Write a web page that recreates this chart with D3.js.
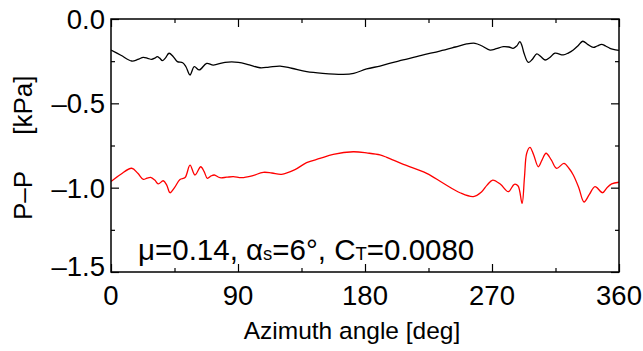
<!DOCTYPE html>
<html>
<head>
<meta charset="utf-8">
<script src="https://cdn.jsdelivr.net/npm/d3@7/dist/d3.min.js"></script>
<style>
  html, body { margin: 0; padding: 0; background: #fff; }
  svg { display: block; }
  text { font-family: "Liberation Sans", Arial, sans-serif; fill: #000; }
</style>
</head>
<body>
<svg id="chart" width="643" height="351"></svg>
<script>
// ---- Data ----
const blackAngle = [0, 7, 14.7, 19, 22.9, 26, 28.8, 31, 32.8, 34.5, 36.4, 38.5, 41.1, 44, 47, 50.8, 53.1, 56, 59, 62.6, 67.8, 72.5, 80.8, 90.2, 98, 105.6, 112, 119.8, 128, 138.7, 150, 164.6, 172, 181.2, 190.6, 198, 207, 220, 233, 244, 252, 258, 263, 268.6, 273, 278, 282, 285, 287.5, 289.8, 291.3, 292.7, 295.7, 298.5, 301.7, 304.5, 307.6, 311, 314.6, 320.5, 324, 327.6, 331, 334.3, 338, 341.8, 344.5, 347.7, 350.5, 353.6, 356, 360];
const blackValue = [-0.184, -0.215, -0.249, -0.240, -0.227, -0.233, -0.239, -0.232, -0.223, -0.232, -0.247, -0.232, -0.203, -0.222, -0.253, -0.259, -0.283, -0.332, -0.283, -0.302, -0.263, -0.273, -0.257, -0.257, -0.272, -0.289, -0.285, -0.279, -0.292, -0.312, -0.322, -0.328, -0.322, -0.296, -0.279, -0.262, -0.243, -0.215, -0.190, -0.166, -0.148, -0.144, -0.160, -0.184, -0.176, -0.164, -0.166, -0.174, -0.160, -0.134, -0.160, -0.203, -0.257, -0.240, -0.207, -0.222, -0.243, -0.228, -0.203, -0.213, -0.202, -0.184, -0.158, -0.132, -0.152, -0.168, -0.160, -0.150, -0.160, -0.174, -0.180, -0.186];

const redAngle = [0, 7, 14.7, 19, 22.9, 25.5, 28.1, 31, 33.5, 37, 39.5, 41.8, 45, 48.9, 52.5, 56, 59.5, 63.6, 66, 68.3, 71, 73.2, 77.2, 82, 86.7, 92.6, 100, 107.9, 114, 120.9, 130, 138.6, 148, 157.5, 171.7, 182, 190.6, 195.4, 207.2, 223.7, 235.5, 247.3, 256.8, 262.7, 266.5, 270.5, 276, 281.6, 285.8, 288.5, 291.3, 293, 294.6, 296.9, 299.5, 302.8, 305.5, 308.3, 312, 315.8, 321, 324.5, 327.6, 331.5, 335.2, 339, 343, 348.4, 351.5, 354.8, 360];
const redValue = [-0.964, -0.920, -0.885, -0.915, -0.951, -0.944, -0.939, -0.955, -0.978, -0.959, -0.985, -1.030, -1.000, -0.951, -0.940, -0.866, -0.925, -0.876, -0.905, -0.945, -0.930, -0.925, -0.941, -0.938, -0.935, -0.941, -0.930, -0.909, -0.913, -0.921, -0.895, -0.852, -0.827, -0.802, -0.787, -0.795, -0.806, -0.820, -0.862, -0.915, -0.974, -1.030, -1.053, -1.024, -0.985, -0.955, -0.980, -1.024, -0.980, -0.990, -1.093, -0.940, -0.796, -0.761, -0.805, -0.876, -0.835, -0.796, -0.835, -0.885, -0.856, -0.885, -0.925, -1.000, -1.085, -1.040, -0.994, -1.030, -1.000, -0.978, -0.968];

const xTicks = [0, 90, 180, 270, 360];
const xMinorTicks = [45, 135, 225, 315];
const yTicks = [0, -0.5, -1.0, -1.5];
const yMinorTicks = [-0.25, -0.75, -1.25];
const yTickLabels = ["0.0", "\u20130.5", "\u20131.0", "\u20131.5"];

// ---- Layout ----
const svg = d3.select("#chart");
const L = 111, R = 619, T = 19, B = 272;
const x = d3.scaleLinear().domain([0, 360]).range([L, R]);
const y = d3.scaleLinear().domain([-1.5, 0]).range([B, T]);

// Curves
const line = d3.line().x(d => x(d[0])).y(d => y(d[1])).curve(d3.curveCatmullRom.alpha(0.5));
svg.append("clipPath").attr("id", "clip").append("rect")
  .attr("x", L).attr("y", T).attr("width", R - L).attr("height", B - T);
const g = svg.append("g").attr("clip-path", "url(#clip)");
g.append("path").datum(blackAngle.map((a, i) => [a, blackValue[i]]))
  .attr("d", line).attr("fill", "none").attr("stroke", "#000").attr("stroke-width", 1.3);
g.append("path").datum(redAngle.map((a, i) => [a, redValue[i]]))
  .attr("d", line).attr("fill", "none").attr("stroke", "#ff0000").attr("stroke-width", 1.3);

// Axes with inward ticks
function addAxis(axisGen, transform, major, minor, majorLen, minorLen) {
  const a = svg.append("g").attr("transform", transform);
  a.call(axisGen.tickValues(major).tickSize(majorLen).tickFormat(""));
  a.select(".domain").remove();
  a.selectAll("line").attr("stroke", "#000").attr("stroke-width", 1.2);
  const b = svg.append("g").attr("transform", transform);
  b.call(axisGen.tickValues(minor).tickSize(minorLen).tickFormat(""));
  b.select(".domain").remove();
  b.selectAll("line").attr("stroke", "#000").attr("stroke-width", 1.2);
}
addAxis(d3.axisTop(x), `translate(0,${B})`, xTicks, xMinorTicks, 8, 4);
addAxis(d3.axisBottom(x), `translate(0,${T})`, xTicks, xMinorTicks, 8, 4);
addAxis(d3.axisRight(y), `translate(${L},0)`, yTicks, yMinorTicks, 8, 4);
addAxis(d3.axisLeft(y), `translate(${R},0)`, yTicks, yMinorTicks, 8, 4);

// Frame
svg.append("rect").attr("x", L).attr("y", T).attr("width", R - L).attr("height", B - T)
  .attr("fill", "none").attr("stroke", "#000").attr("stroke-width", 1.5);

// Tick labels
svg.append("g").selectAll("text").data(xTicks).join("text")
  .attr("x", d => x(d)).attr("y", 305)
  .attr("text-anchor", "middle").attr("font-size", 27.5)
  .text(d => d);
svg.append("g").selectAll("text").data(yTicks).join("text")
  .attr("x", 105).attr("y", (d, i) => i === 3 ? y(d) + 4 : y(d) + 10)
  .attr("text-anchor", "end").attr("font-size", 27.5)
  .text((d, i) => yTickLabels[i]);

// Axis titles
svg.append("text").attr("x", 352).attr("y", 339).attr("text-anchor", "middle")
  .attr("font-size", 24.5).text("Azimuth angle [deg]");
const yl = svg.append("text").attr("transform", "translate(32,220) rotate(-90)")
  .attr("font-size", 26);
yl.append("tspan").text("P\u2013P");
yl.append("tspan").attr("dx", 36).text("[kPa]");

// Annotation
const ann = svg.append("text").attr("x", 138).attr("y", 260).attr("font-size", 29.5);
ann.append("tspan").text("\u03bc=0.14, \u03b1");
ann.append("tspan").attr("font-size", 18.5).text("s");
ann.append("tspan").text("=6\u00b0, C");
ann.append("tspan").attr("font-size", 18.5).text("T");
ann.append("tspan").text("=0.0080");
</script>
</body>
</html>
